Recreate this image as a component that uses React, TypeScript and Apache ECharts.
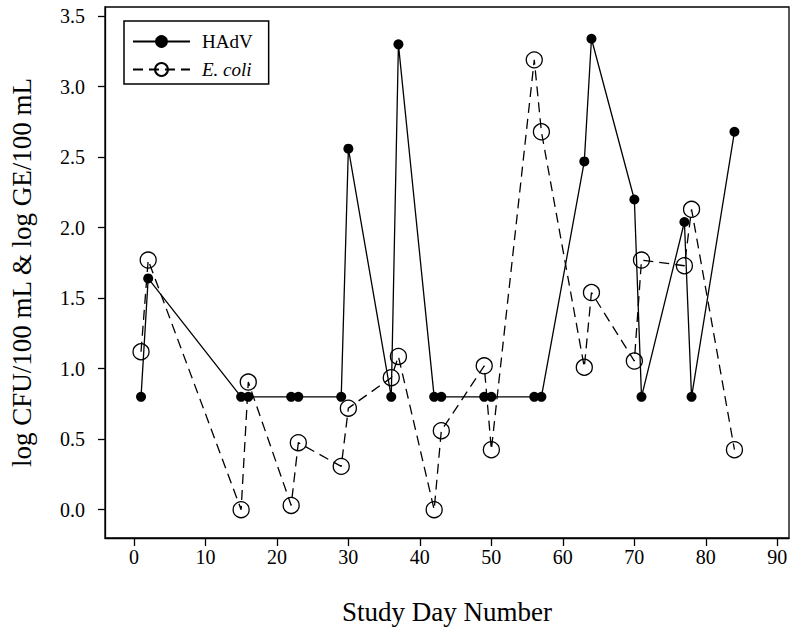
import React, { useEffect, useRef } from "react";
import * as echarts from "echarts";

const days = [1, 2, 15, 16, 22, 23, 29, 30, 36, 37, 42, 43, 49, 50, 56, 57, 63, 64, 70, 71, 77, 78, 84];
const hadv = [0.8, 1.64, 0.8, 0.8, 0.8, 0.8, 0.8, 2.56, 0.8, 3.3, 0.8, 0.8, 0.8, 0.8, 0.8, 0.8, 2.47, 3.34, 2.2, 0.8, 2.04, 0.8, 2.68];
const ecoli = [1.12, 1.77, 0.0, 0.905, 0.03, 0.475, 0.307, 0.72, 0.936, 1.087, 0.0, 0.56, 1.02, 0.425, 3.19, 2.68, 1.01, 1.54, 1.054, 1.77, 1.73, 2.13, 0.425];
const xTicks = [0, 10, 20, 30, 40, 50, 60, 70, 80, 90];
const yTicks = [0, 0.5, 1.0, 1.5, 2.0, 2.5, 3.0, 3.5];

const FONT = "'Liberation Serif', 'Times New Roman', serif";

export default function App() {
  const ref = useRef<HTMLDivElement>(null);
  useEffect(() => {
    if (!ref.current) return;
    const chart = echarts.init(ref.current, undefined, { renderer: "svg" });
    chart.setOption({
      animation: false,
      backgroundColor: "#fff",
      textStyle: { fontFamily: FONT, color: "#000" },
      grid: {
        left: 103,
        top: 7,
        right: 8,
        bottom: 95,
        show: true,
        borderColor: "#000",
        borderWidth: 1.3,
        backgroundColor: "transparent",
      },
      legend: {
        orient: "vertical",
        left: 124,
        top: 21,
        itemWidth: 57,
        itemHeight: 16,
        itemGap: 9,
        padding: [11, 16, 5, 8],
        borderColor: "#000",
        borderWidth: 1.5,
        textStyle: { fontFamily: FONT, fontSize: 19, color: "#000", padding: [0, 0, 0, 7] },
        data: [
          { name: "HAdV" },
          { name: "E. coli", textStyle: { fontStyle: "italic" } },
        ],
      },
      xAxis: {
        type: "value",
        min: -4.04,
        max: 91.63,
        name: "Study Day Number",
        nameLocation: "middle",
        nameGap: 60,
        nameTextStyle: { fontFamily: FONT, fontSize: 27, color: "#000" },
        axisLine: { show: true, onZero: false, lineStyle: { color: "#000", width: 1.3 } },
        axisTick: { show: true, length: 8, customValues: xTicks, lineStyle: { color: "#000", width: 1.3 } },
        axisLabel: { customValues: xTicks, margin: 9, fontFamily: FONT, fontSize: 20, color: "#000" },
        splitLine: { show: false },
      },
      yAxis: {
        type: "value",
        min: -0.201,
        max: 3.565,
        name: "log CFU/100 mL & log GE/100 mL",
        nameLocation: "middle",
        nameGap: 70,
        nameTextStyle: { fontFamily: FONT, fontSize: 27, color: "#000" },
        axisLine: { show: true, onZero: false, lineStyle: { color: "#000", width: 1.3 } },
        axisTick: { show: true, length: 7, customValues: yTicks, lineStyle: { color: "#000", width: 1.3 } },
        axisLabel: {
          customValues: yTicks,
          margin: 20,
          fontFamily: FONT,
          fontSize: 20,
          color: "#000",
          formatter: (v: number) => v.toFixed(1),
        },
        splitLine: { show: false },
      },
      series: [
        {
          name: "HAdV",
          type: "line",
          data: days.map((d, i) => [d, hadv[i]]),
          symbol: "circle",
          symbolSize: 10,
          itemStyle: { color: "#000" },
          lineStyle: { color: "#000", width: 1.3, type: "solid" },
          z: 3,
        },
        {
          name: "E. coli",
          type: "line",
          data: days.map((d, i) => [d, ecoli[i]]),
          symbol: "circle",
          symbolSize: 16,
          itemStyle: { color: "transparent", borderColor: "#000", borderWidth: 1.3 },
          lineStyle: { color: "#000", width: 1.3, type: [10, 6] },
          z: 2,
        },
      ],
    });
    return () => chart.dispose();
  }, []);
  return (
    <div
      ref={ref}
      style={{ position: "absolute", left: 0, top: 0, width: 797, height: 633 }}
    />
  );
}
